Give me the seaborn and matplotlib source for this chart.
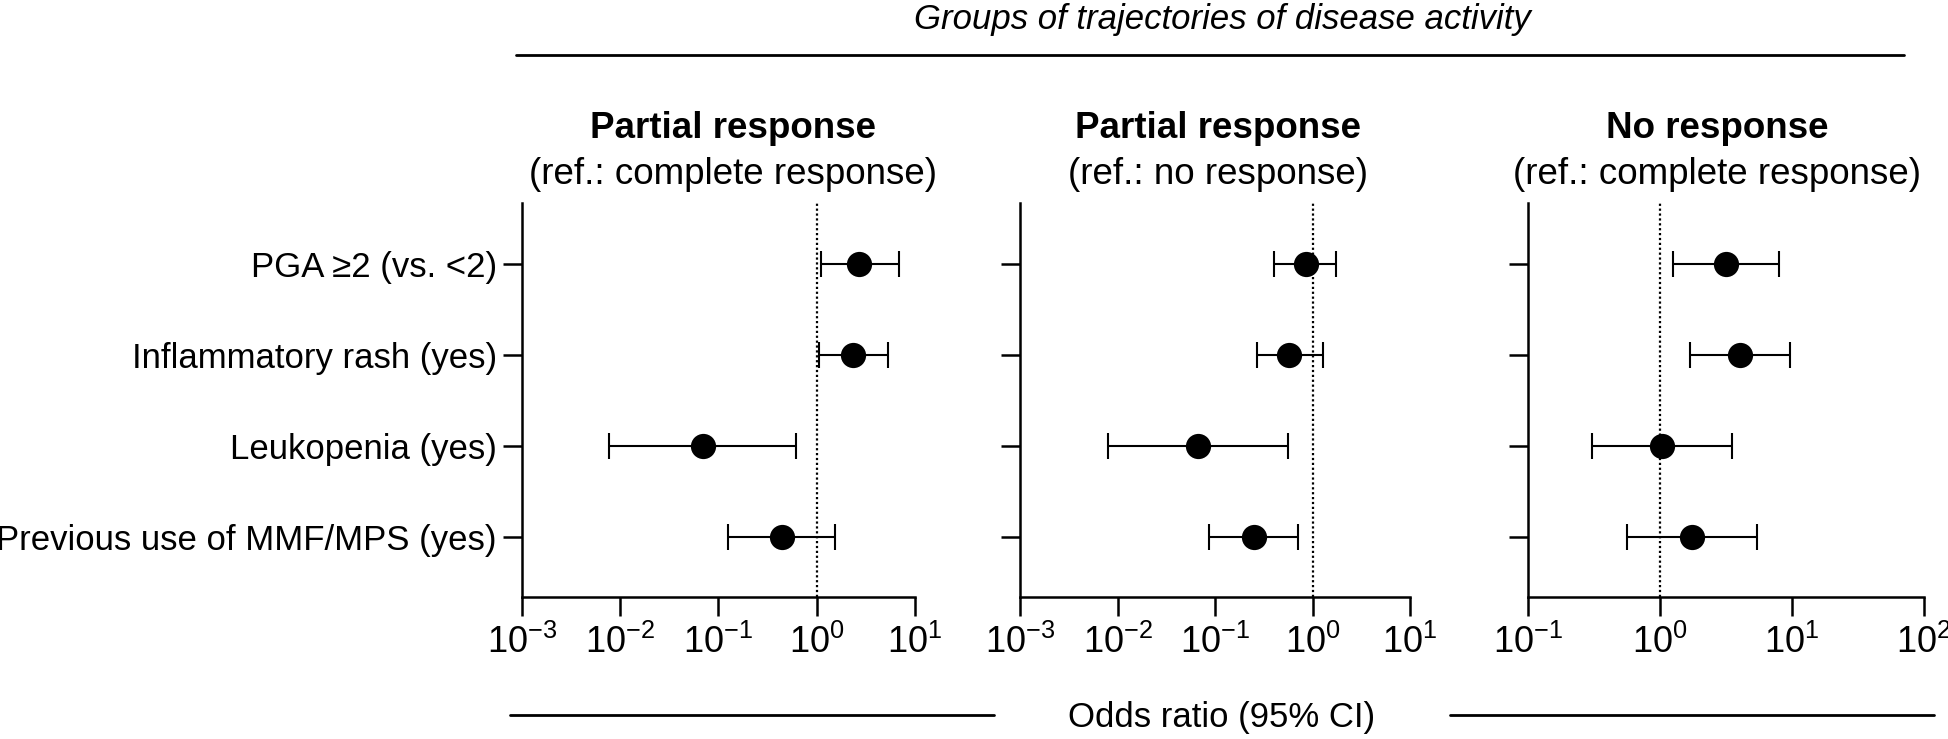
import numpy as np
import pandas as pd
import matplotlib
matplotlib.use("Agg")
import matplotlib.pyplot as plt
from matplotlib.ticker import LogLocator, LogFormatterMathtext, NullLocator
from matplotlib.lines import Line2D
import seaborn as sns

# ---------------- data ----------------
categories = ["PGA \u22652 (vs. <2)", "Inflammatory rash (yes)",
              "Leukopenia (yes)", "Previous use of MMF/MPS (yes)"]

p1_or = [2.71, 2.36, 0.069, 0.44]
p1_lo = [1.10, 1.05, 0.0078, 0.126]
p1_hi = [6.87, 5.27, 0.61, 1.53]

p2_or = [0.85, 0.575, 0.066, 0.249]
p2_lo = [0.40, 0.267, 0.0079, 0.087]
p2_hi = [1.76, 1.28, 0.56, 0.71]

p3_or = [3.15, 4.02, 1.035, 1.73]
p3_lo = [1.25, 1.69, 0.305, 0.556]
p3_hi = [7.89, 9.56, 3.51, 5.43]

panel_titles = ["Partial response", "Partial response", "No response"]
panel_refs = ["(ref.: complete response)", "(ref.: no response)",
              "(ref.: complete response)"]
panel_xlims = [(1e-3, 1e1), (1e-3, 1e1), (1e-1, 1e2)]

group_title = "Groups of trajectories of disease activity"
x_label = "Odds ratio (95% CI)"

# ---------------- style ----------------
sns.set_theme(style="ticks")
plt.rcParams["font.family"] = ["Liberation Sans", "DejaVu Sans"]
plt.rcParams["mathtext.fontset"] = "custom"
plt.rcParams["mathtext.rm"] = "Liberation Sans"
plt.rcParams["mathtext.it"] = "Liberation Sans:italic"
plt.rcParams["mathtext.bf"] = "Liberation Sans:bold"

W, H = 1949, 739
fig = plt.figure(figsize=(W / 100, H / 100), dpi=100)

panels = [(p1_or, p1_lo, p1_hi), (p2_or, p2_lo, p2_hi), (p3_or, p3_lo, p3_hi)]
ax_px = [(521.7, 915.0), (1020.3, 1410.0), (1528.3, 1924.0)]
top_px, bot_px = 203, 597
title_cx = [733, 1218, 1717]

positions = np.arange(len(categories))

for i, ((orv, lo, hi), (x0, x1)) in enumerate(zip(panels, ax_px)):
    ax = fig.add_axes([x0 / W, 1 - bot_px / H, (x1 - x0) / W, (bot_px - top_px) / H])
    df = pd.DataFrame({"cat": categories, "pos": positions,
                       "or": orv, "lo": lo, "hi": hi})
    ax.set_xscale("log")
    ax.axvline(1, color="black", lw=1.6, ls=(0, (1, 1.2)), zorder=1)
    ax.errorbar(df["or"], df["pos"],
                xerr=[df["or"] - df["lo"], df["hi"] - df["or"]],
                fmt="none", ecolor="black", elinewidth=1.5,
                capsize=9.5, capthick=1.5, zorder=2)
    sns.scatterplot(data=df, x="or", y="pos", ax=ax, color="black",
                    s=330, edgecolor="black", linewidth=0, zorder=3,
                    legend=False)
    ax.set_xlim(*panel_xlims[i])
    ax.set_ylim(3.659, -0.670)
    ax.xaxis.set_major_locator(LogLocator(base=10, numticks=10))
    ax.xaxis.set_major_formatter(LogFormatterMathtext())
    ax.xaxis.set_minor_locator(NullLocator())
    ax.set_yticks(positions)
    if i == 0:
        ax.set_yticklabels(categories)
    else:
        ax.set_yticklabels([])
    ax.set_xlabel("")
    ax.set_ylabel("")
    sns.despine(ax=ax)
    for s in ["left", "bottom"]:
        ax.spines[s].set_linewidth(1.8)
        ax.spines[s].set_color("black")
    ax.tick_params(axis="both", direction="out", length=14, width=1.8,
                   color="black", labelcolor="black")
    ax.tick_params(axis="x", pad=6, labelsize=26)
    ax.tick_params(axis="y", pad=4, labelsize=25)
    ax.set_facecolor("white")

    fig.text(title_cx[i] / W, 1 - 128 / H, panel_titles[i], ha="center",
             va="center", fontsize=26.5, fontweight="bold", color="black")
    fig.text(title_cx[i] / W, 1 - 174 / H, panel_refs[i], ha="center",
             va="center", fontsize=26.5, color="black")

# header
fig.text(1222 / W, 1 - 19 / H, group_title, ha="center", va="center",
         fontsize=25, fontstyle="italic", color="black")
fig.add_artist(Line2D([516 / W, 1904 / W], [1 - 55 / H, 1 - 55 / H],
                      color="black", lw=2.0))

# footer
fig.text(1222 / W, 1 - 717 / H, x_label, ha="center", va="center",
         fontsize=25, color="black")
fig.add_artist(Line2D([510 / W, 994 / W], [1 - 715 / H, 1 - 715 / H],
                      color="black", lw=2.0))
fig.add_artist(Line2D([1450 / W, 1934 / W], [1 - 715 / H, 1 - 715 / H],
                      color="black", lw=2.0))

fig.savefig("out.png", dpi=100, facecolor="white")
